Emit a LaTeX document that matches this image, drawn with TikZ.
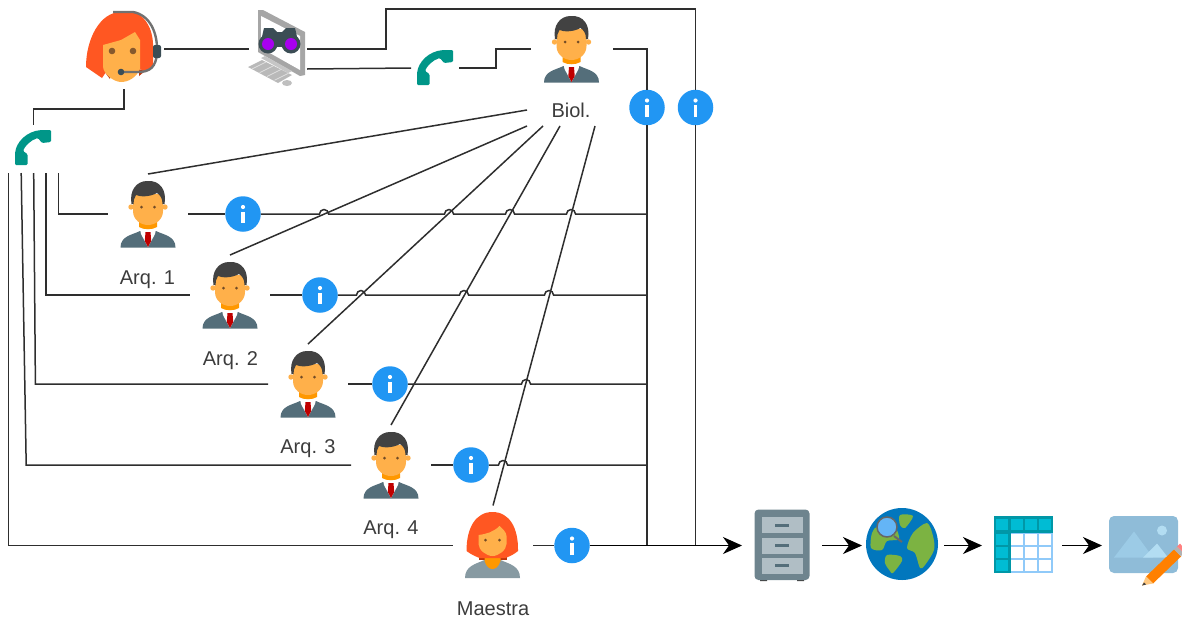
\documentclass[tikz,border=0pt]{standalone}
\usepackage{fontspec}
\setmainfont{Liberation Sans}
\usetikzlibrary{arrows.meta}
\definecolor{linec}{HTML}{2E2E2E}
\definecolor{textc}{HTML}{3C3C3C}
\definecolor{skinc}{HTML}{FFB04A}
\definecolor{neckc}{HTML}{FF9800}
\definecolor{suitc}{HTML}{546E7A}
\definecolor{hairc}{HTML}{424242}
\definecolor{redhair}{HTML}{FF5722}
\definecolor{darkhair}{HTML}{BF360C}
\definecolor{infoc}{HTML}{2196F3}
\definecolor{phonec}{HTML}{009688}
\definecolor{lensc}{HTML}{A800F0}
\definecolor{drawerc}{HTML}{B0BEC5}
\definecolor{earthc}{HTML}{0277BD}
\definecolor{landc}{HTML}{7CB342}
\definecolor{glassc}{HTML}{64B5F6}
\definecolor{framec}{HTML}{0097A7}
\definecolor{cellc}{HTML}{00BCD4}
\definecolor{gridc}{HTML}{90CAF9}
\definecolor{picc}{HTML}{8FBCD8}
\definecolor{peakc}{HTML}{9CCBE6}
\definecolor{peakd}{HTML}{B3DDF2}
\tikzset{
  conn/.style={draw=linec,line width=1.5pt},
  iconbox/.style={minimum width=#1,minimum height=80pt,inner sep=0pt,outer sep=0pt},
  info/.style={circle,fill=infoc,minimum size=35.5pt,inner sep=0pt,outer sep=0pt,
    path picture={\fill[white] ([xshift=-1.7pt,yshift=-9pt]path picture bounding box.center) rectangle ([xshift=1.7pt,yshift=2.5pt]path picture bounding box.center);
      \fill[white] ([yshift=7pt]path picture bounding box.center) circle (2.1pt);}},
  lab/.style={text=textc,font=\fontsize{20}{22}\selectfont,inner sep=0pt,outer sep=0pt},
  pics/manicon/.style={code={
    \fill[suitc] (-27.5,33.5) .. controls (-27.5,22) and (-16,21) .. (-8,17) -- (8,17) .. controls (16,21) and (27.5,22) .. (27.5,33.5) -- cycle;
    \fill[white] (-8,15) -- (8,15) -- (7,20) -- (0,33) -- (-7,20) -- cycle;
    \fill[red!75!black] (-2.5,18) -- (2.5,18) -- (3.2,27) -- (0,33) -- (-3.2,27) -- cycle;
    \fill[neckc] (-9,4) -- (9,4) -- (9,13) .. controls (4,16) and (-4,16) .. (-9,13) -- cycle;
    \fill[skinc] (-17,-7) circle (2.7) (17,-7) circle (2.7);
    \fill[skinc] (-15,-20) -- (15,-20) -- (15,-3) .. controls (15,6) and (7,11) .. (0,11) .. controls (-7,11) and (-15,6) .. (-15,-3) -- cycle;
    \fill[hairc] (-16.5,-10) .. controls (-19,-24) and (-11,-33) .. (-1,-33) .. controls (12,-34) and (19,-24) .. (16.5,-10) -- (14.5,-10) .. controls (14.5,-16) and (12,-19) .. (9,-21) .. controls (2,-17) and (-8,-17) .. (-12,-19) .. controls (-14,-16) and (-14.5,-13) .. (-14.5,-10) -- cycle;
    \fill[brown!60!black] (-6.5,-7) circle (1.5) (6.5,-7) circle (1.5);
  }},
  pics/womanicon/.style={code={
    \fill[darkhair] (-14,0) rectangle (14,14);
    \fill[suitc!70!white] (-27.5,32) .. controls (-27.5,20) and (-17,18) .. (-8,14) -- (8,14) .. controls (17,18) and (27.5,20) .. (27.5,32) -- cycle;
    \fill[neckc] (-8,6) -- (8,6) -- (8,15) .. controls (6,21) and (3,23) .. (0,23) .. controls (-3,23) and (-6,21) .. (-8,15) -- cycle;
    \fill[redhair] (-26,5) .. controls (-26,-18) and (-17,-34) .. (0,-34) .. controls (17,-34) and (26,-18) .. (25.5,5) .. controls (22,8) and (18,10) .. (13,12) -- (-13,12) .. controls (-18,10) and (-22,8) .. (-26,5) -- cycle;
    \fill[skinc] (-14,-11) .. controls (-6,-12) and (1,-14) .. (7,-20) .. controls (10,-17) and (14,-14) .. (14,-10) -- (14,-2) .. controls (14,4) and (6,10) .. (0,10) .. controls (-6,10) and (-14,4) .. (-14,-2) -- cycle;
    \fill[brown!60!black] (-7,-6) circle (1.5) (7,-6) circle (1.5);
  }},
  pics/agenticon/.style={code={
    \fill[darkhair] (-20,22) -- (-14,22) -- (-14,30) -- cycle (15,20) -- (21,22) -- (15,27) -- cycle;
    \fill[redhair] (-38,18) .. controls (-38,-10) and (-24,-37) .. (-3,-37) -- (10,-37) .. controls (22,-33) and (30,-18) .. (29,0) -- (29,18) -- (22,23) -- (16,20) -- (-16,20) -- (-22,29) -- cycle;
    \fill[skinc] (-21,-4) -- (-3,-9) -- (11,-17) -- (16,-9) -- (16,20) .. controls (12,29) and (4,33) .. (-3,33) .. controls (-10,33) and (-21,25) .. (-21,17) -- cycle;
    \fill[brown!70!black] (-12,2) circle (3.3) (9,2) circle (3.3);
    \draw[hairc!75!white,line width=2.4pt] (-11,-37) -- (9,-37) .. controls (26,-34) and (34,-16) .. (33,4) .. controls (32,18) and (26,23) .. (14,23) -- (-3,23);
    \fill[suitc!70!black] (-3,23) circle (3.3);
    \fill[suitc!70!black,rounded corners=2pt] (29,-4) rectangle (37,9);
  }},
  pics/monitoricon/.style={code={
    \fill[gray!70] (-20,-39) -- (-15,-39) -- (27,-17) -- (27,26) -- (22,27) -- (-20,3) -- cycle;
    \fill[white] (-17,-33) -- (22,-13) -- (22,21) -- (-17,-1) -- cycle;
    \fill[gray!45] (-17,9) -- (-13,7) -- (14,22) -- (10,24) -- cycle;
    \fill[gray!55] (-30,18) -- (-16,11) -- (14,26) -- (0,34) -- cycle;
    \foreach \kx in {0,.25,.5,.75}{
      \draw[gray!25,line width=.8pt] (-26+\kx*30,20+\kx*15) -- (-12+\kx*30,13+\kx*15);}
    \fill[gray!50] (9,34) ellipse (5 and 3);
    \fill[suitc!70!black] (-10,-5) circle (9.5);
    \fill[suitc!70!black] (13,-5) circle (9.5);
    \fill[suitc!70!black] (-14,-21) -- (-5,-21) -- (-1,-17) -- (4,-17) -- (8,-21) -- (17,-21) -- (20,-8) -- (-17,-8) -- cycle;
    \fill[suitc!70!black] (-4,-16) rectangle (7,-2);
    \fill[lensc] (-10,-5) circle (6);
    \fill[lensc] (13,-5) circle (6);
  }},
  pics/phoneicon/.style={code={
    \fill[phonec,rounded corners=1.2pt] (18,-18) -- (18,-6) -- (9,-5) -- (5,-10) .. controls (-2,-8) and (-8,-2) .. (-10,3) -- (-5.5,6) -- (-5.5,17) -- (-18,17) -- (-18,6) .. controls (-17,-6) and (-6,-17) .. (9,-18) -- cycle;
  }},
  pics/cabineticon/.style={code={
    \fill[hairc] (-22,31) rectangle (-15,36) (15,31) rectangle (22,36);
    \fill[suitc!85!white,rounded corners=4pt] (-27.5,-35.5) rectangle (27.5,35);
    \foreach \dy in {-28,-7.5,12.5}{
      \fill[drawerc] (-20.5,\dy) rectangle (20.5,\dy+16);
      \fill[suitc] (-7,\dy+6.5) rectangle (7,\dy+9.5);}
  }},
  pics/globeicon/.style={code={
    \fill[earthc] (0,0) circle (36);
    \fill[landc] plot[smooth cycle] coordinates {(25,-21) (31,-8) (32,6) (23,21) (18,24) (13,9) (5,4) (11,-11)};
    \fill[landc] plot[smooth cycle] coordinates {(-2,-29) (11,-28) (3,-16) (-2,-19)};
    \fill[landc] plot[smooth cycle] coordinates {(-30,-11) (-24,-18) (-8,-18) (-3,-5) (-15,-3) (-20,6) (-31,4)};
    \fill[landc] plot[smooth cycle] coordinates {(-15,11) (-2,12) (0,17) (-9,29) (-12,27) (-17,19)};
    \draw[hairc!80!white,line width=2pt] (-8,-8) -- (0,-2);
    \filldraw[fill=glassc,draw=gray!80!black,line width=1.5pt] (-15,-17) circle (10);
  }},
  pics/tableicon/.style={code={
    \fill[gridc] (-29.5,-28.5) rectangle (29.5,28.5);
    \fill[framec] (-29.5,-28.5) rectangle (29.5,-12);
    \fill[framec] (-29.5,-28.5) rectangle (-12.5,28.5);
    \foreach \cx in {-27.5,-12.5,1.5,15.5}{
      \fill[cellc] (\cx,-25.5) rectangle (\cx+12,-14.5);}
    \foreach \cy in {-11,2.5,15.5}{
      \fill[cellc] (-27.5,\cy) rectangle (-15.5,\cy+11);
      \foreach \cx in {-12.5,1.5,15.5}{
        \fill[white] (\cx,\cy) rectangle (\cx+12,\cy+11);}}
  }},
  pics/imageicon/.style={code={
    \fill[picc,rounded corners=5pt] (-36,-28.5) rectangle (33,28.5);
    \fill[peakc] (-31,13) -- (-11,-13) -- (8,13) -- cycle;
    \fill[peakd] (-2,13) -- (12,-1) -- (23,13) -- cycle;
    \fill[peakd] (17,-14) circle (5);
    \fill[orange] (1,32) -- (29,5) -- (36,12) -- (8,39) -- cycle;
    \fill[gray!60] (29,5) -- (32,2) -- (38,8) -- (36,12) -- cycle;
    \fill[red!50!white] (32,2) -- (35,-1) -- (39,4) -- (38,8) -- cycle;
    \fill[skinc!70!white] (1,32) -- (8,39) -- (-3,41) -- cycle;
    \fill[hairc] (-1,38) -- (1,40) -- (-3,41) -- cycle;
  }}
}
\begin{document}
\begin{tikzpicture}[x=1pt,y=-1pt,>={Stealth[length=19pt,width=17pt,inset=6pt]}]
\useasboundingbox (0,0) rectangle (1182,619);
\node[iconbox=80pt] (agent) at (124,49) {};
\node[iconbox=58pt] (monitor) at (278,49) {};
\node[iconbox=48pt] (phonetop) at (435,68) {};
\node[iconbox=82pt] (biol) at (572,49) {};
\node[iconbox=50pt,minimum height=48pt] (phoneleft) at (33.7,149) {};
\node[iconbox=80pt] (arq1) at (148,214) {};
\node[iconbox=80pt] (arq2) at (230,295) {};
\node[iconbox=80pt] (arq3) at (308,384) {};
\node[iconbox=80pt] (arq4) at (391,465) {};
\node[iconbox=80pt] (maestra) at (493,545.5) {};
\node[iconbox=80pt] (cabinet) at (782,545.5) {};
\node[iconbox=82pt] (globe) at (903,545.5) {};
\node[iconbox=80pt] (tablebox) at (1022,545.5) {};
\node[iconbox=82pt] (imagebox) at (1143,545.5) {};
\node[lab,minimum width=88pt,minimum height=32pt] (lbiol) at (571,110) {\raisebox{-2pt}{Biol.}};
\node[lab] (larq1) at (147.5,280) {Arq. 1};
\node[lab] (larq2) at (230.5,360.5) {Arq. 2};
\node[lab] (larq3) at (308,449) {Arq. 3};
\node[lab] (larq4) at (391,530) {Arq. 4};
\node[lab] (lmaestra) at (493,609) {Maestra};
\coordinate (topc) at (695.5,9);
\foreach \nm/\px/\py in {infoa/243/214,infob/320/295,infoc/390/384,infod/471/465,infoe/572/545.5,infof/647/107.5,infog/695.5/107.5}
  \node[info] (\nm) at (\px,\py) {};
\pic at (124,49) {agenticon};
\pic at (278,49) {monitoricon};
\pic at (435,68) {phoneicon};
\pic at (33,148) {phoneicon};
\pic at (571.5,49) {manicon};
\foreach \nm in {arq1,arq2,arq3,arq4}
  \pic at (\nm) {manicon};
\pic at (492.5,546) {womanicon};
\pic at (782,545) {cabineticon};
\pic at (902,544) {globeicon};
\pic at (1023.5,544.5) {tableicon};
\pic at (1145,544.5) {imageicon};
\draw[conn] (agent.east) -- (monitor.west);
\draw[conn] (agent.south) -- ++(0,20) -| (phoneleft.north);
\draw[conn] ([yshift=-20pt]monitor.east) -- (phonetop.west);
\draw[conn] (phonetop.east) -- ++(37,0) |- (biol.west);
\draw[conn] (monitor.east) -- ++(79,0) |- (topc) -- (infog.north);
\draw[conn] (biol.east) -| (infof.north);
\draw[conn] (infof.south) -- (infof |- infoe);
\draw[conn] (infog.south) -- (infog |- infoe);
\draw[conn] ([xshift=50pt]phoneleft.south west) -- ++(0,41) -- (arq1.west);
\draw[conn] ([xshift=37.5pt]phoneleft.south west) -- ++(0,122) -- (arq2.west);
\draw[conn] ([xshift=25pt]phoneleft.south west) -- ++(1.7,211) -- (arq3.west);
\draw[conn] ([xshift=12.5pt]phoneleft.south west) -- ++(5,292) -- (arq4.west);
\draw[conn] (phoneleft.south west) -- ++(0,372.5) -- (maestra.west);
\draw[conn] (lbiol.west) -- (arq1.north);
\draw[conn] (lbiol.south west) -- (arq2.north);
\draw[conn] ([xshift=16pt]lbiol.south west) -- (arq3.north);
\draw[conn] ([xshift=33pt]lbiol.south west) -- (arq4.north);
\draw[conn] ([xshift=68pt]lbiol.south west) -- (maestra.north);
\draw[conn] (arq1.east) -- (infoa.west);
\draw[conn] (arq2.east) -- (infob.west);
\draw[conn] (arq3.east) -- (infoc.west);
\draw[conn] (arq4.east) -- (infod.west);
\draw[conn] (maestra.east) -- (infoe.west);
\draw[conn] (infoa.east) \foreach \jx in {324,449,510,571}{ -- (\jx-4.5,214) arc[start angle=180,end angle=360,radius=4.5]} -- (infof |- infoa);
\draw[conn] (infob.east) \foreach \jx in {361,464,549}{ -- (\jx-4.5,295) arc[start angle=180,end angle=360,radius=4.5]} -- (infof |- infob);
\draw[conn] (infoc.east) \foreach \jx in {526}{ -- (\jx-4.5,384) arc[start angle=180,end angle=360,radius=4.5]} -- (infof |- infoc);
\draw[conn] (infod.east) \foreach \jx in {503}{ -- (\jx-4.5,465) arc[start angle=180,end angle=360,radius=4.5]} -- (infof |- infod);
\draw[conn,draw=black,->] (infoe.east) -- (cabinet.west);
\draw[conn,draw=black,->] (cabinet.east) -- (globe.west);
\draw[conn,draw=black,->] (globe.east) -- (tablebox.west);
\draw[conn,draw=black,->] (tablebox.east) -- (imagebox.west);
\end{tikzpicture}
\end{document}
